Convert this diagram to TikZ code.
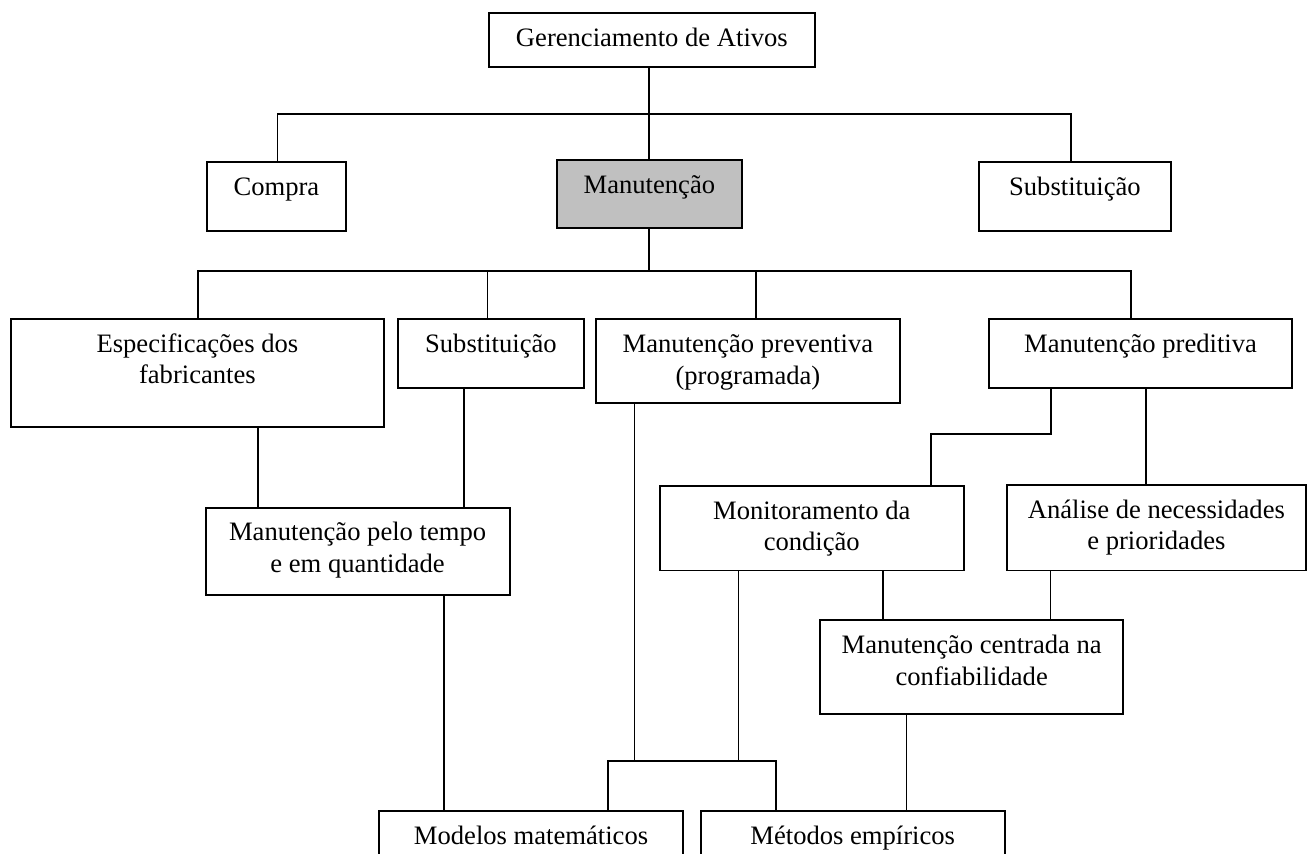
\documentclass[tikz,border=0pt]{standalone}
\usepackage{fontspec}
\setmainfont{Liberation Serif}
\definecolor{boxgray}{HTML}{C0C0C0}

% box frame from (x1,y1) to (x2,y2), text set from the top edge down
\newcommand\mkbox[7][]{%
  \pgfmathsetmacro\bxw{#5-#3}%
  \pgfmathsetmacro\bxh{#6-#4}%
  \node[framebox,#1,minimum width=\bxw pt,minimum height=\bxh pt,anchor=north west] (#2) at (#3,#4) {};
  \node[boxtext] (#2-t) at ([yshift=-34pt]#2.north) {\begin{tabular}[t]{@{}c@{}}#7\end{tabular}};%
}

\tikzset{
  framebox/.style={draw, line width=1.8pt, fill=white, inner sep=0pt},
  boxtext/.style={anchor=base, inner sep=0pt, font=\fontsize{26.6}{31.7}\selectfont},
  link/.style={line width=1.7pt},
}

\begin{document}
\begin{tikzpicture}[x=1pt, y=-1pt]
\useasboundingbox (0,0) rectangle (1307,854);
\clip (0,0) rectangle (1307,854);

% columns of the vertical connectors
\coordinate (cA) at (649,0);
\coordinate (cCompra) at (277.5,0);
\coordinate (cSub1) at (1071,0);
\coordinate (cEsp) at (198,0);
\coordinate (cSub2) at (487.5,0);
\coordinate (cPrev) at (756,0);
\coordinate (cPred) at (1131,0);
\coordinate (cEspT) at (258.3,0);
\coordinate (cSubT) at (464,0);
\coordinate (cTempoM) at (443.7,0);
\coordinate (cPrevJ) at (634.5,0);
\coordinate (cMonJ) at (738.5,0);
\coordinate (cJL) at (607.7,0);
\coordinate (cJR) at (776,0);
\coordinate (cPredL) at (1051.3,0);
\coordinate (cPredR) at (1146.3,0);
\coordinate (cMonT) at (931,0);
\coordinate (cMonC) at (882.7,0);
\coordinate (cAnaC) at (1050.5,0);
\coordinate (cCenM) at (906.5,0);

% horizontal rails
\coordinate (bus1) at (649,113.7);
\coordinate (bus2) at (649,271);
\coordinate (elbow) at (931,434.3);
\coordinate (junc) at (700,761);

% boxes
\mkbox{top}{488}{12}{814}{66}{Gerenciamento de Ativos}
\mkbox{compra}{206}{161}{345}{230}{Compra}
\mkbox[fill=boxgray]{manut}{556}{159}{741}{227}{Manutenção}
\mkbox{subst1}{978}{161}{1170}{230}{Substituição}
\mkbox{espec}{10}{318}{383}{425.7}{Especificações dos\\ fabricantes}
\mkbox{subst2}{396.7}{318}{583.3}{386.7}{Substituição}
\mkbox{prev}{595.3}{318.3}{898.7}{402}{Manutenção preventiva\\ (programada)}
\mkbox{pred}{988}{318.3}{1291.3}{386.7}{Manutenção preditiva}
\mkbox{tempo}{204.7}{506.7}{508.7}{594}{Manutenção pelo tempo\\ e em quantidade}
\mkbox{mon}{659}{485}{962.7}{569.5}{Monitoramento da\\ condição}
\mkbox{ana}{1006}{484}{1305}{569.5}{Análise de necessidades\\ e prioridades}
\mkbox{cent}{819.3}{619.3}{1122.3}{713.3}{Manutenção centrada na\\ confiabilidade}
\mkbox{model}{378.3}{810}{682}{880}{Modelos matemáticos}
\mkbox{metod}{700}{810}{1003.7}{880}{Métodos empíricos}

% connectors
\draw[link] (top.south -| cA) -- (manut.north -| cA);
\draw[link] (compra.north -| cCompra) |- (bus1) -| (subst1.north -| cSub1);
\draw[link] (manut.south -| cA) -- (bus2);
\draw[link] (espec.north -| cEsp) |- (bus2) -| (pred.north -| cPred);
\draw[link] (subst2.north -| cSub2) -- (bus2 -| cSub2);
\draw[link] (prev.north -| cPrev) -- (bus2 -| cPrev);
\draw[link] (espec.south -| cEspT) -- (tempo.north -| cEspT);
\draw[link] (subst2.south -| cSubT) -- (tempo.north -| cSubT);
\draw[link] (pred.south -| cPredL) |- (elbow) -- (mon.north -| cMonT);
\draw[link] (pred.south -| cPredR) -- (ana.north -| cPredR);
\draw[link] (mon.south -| cMonC) -- (cent.north -| cMonC);
\draw[link] (ana.south -| cAnaC) -- (cent.north -| cAnaC);
\draw[link] (tempo.south -| cTempoM) -- (model.north -| cTempoM);
\draw[link] (prev.south -| cPrevJ) -- (junc -| cPrevJ);
\draw[link] (mon.south -| cMonJ) -- (junc -| cMonJ);
\draw[link] (model.north -| cJL) |- (junc) -| (metod.north -| cJR);
\draw[link] (cent.south -| cCenM) -- (metod.north -| cCenM);
\end{tikzpicture}
\end{document}
